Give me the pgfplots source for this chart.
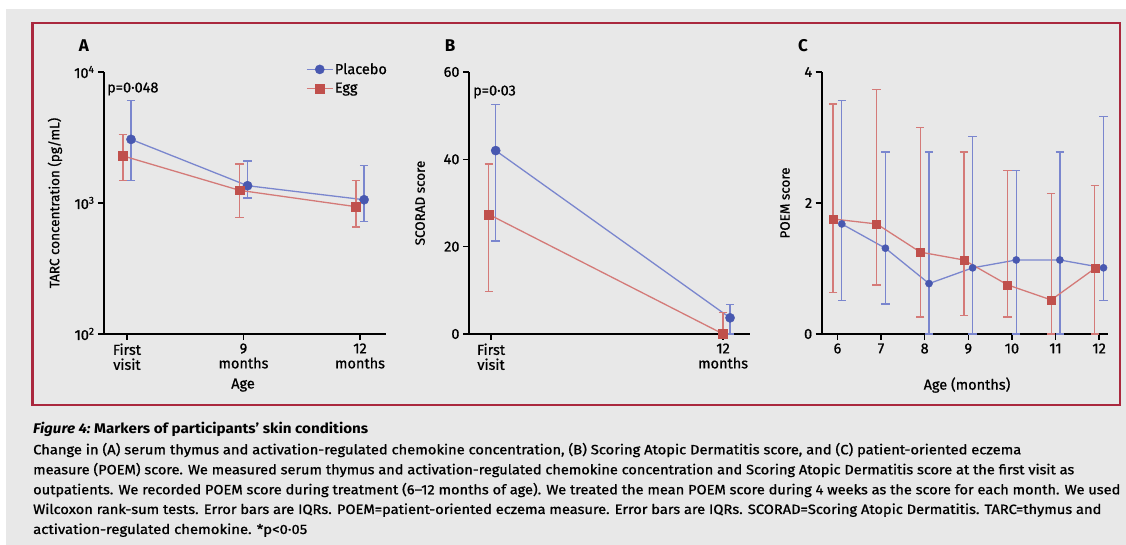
\documentclass[border=0pt]{standalone}
\usepackage{fontspec}
\setmainfont{Fira Sans}
\newfontfamily\chartfont{Fira Sans}[FakeBold=0.8]
\newfontfamily\capfont{Fira Sans}[FakeStretch=0.86, FakeBold=0.9]
\usepackage{graphicx}
\usepackage{pgfplots}
\pgfplotsset{compat=1.18}
\definecolor{bg}{RGB}{232,232,232}
\definecolor{boxred}{RGB}{170,40,62}
\definecolor{blueM}{RGB}{72,88,176}
\definecolor{blueL}{RGB}{122,134,206}
\definecolor{redM}{RGB}{192,80,76}
\definecolor{redL}{RGB}{212,122,120}
\newcommand{\cf}{\chartfont\fontsize{14.5}{15}\selectfont}
\newcommand{\lf}{\chartfont\fontsize{13.5}{15}\selectfont}
\pgfplotsset{
  myaxis/.style={
    scale only axis, clip=false,
    axis x line*=bottom, axis y line*=left,
    axis line style={line width=1.7pt, black},
    tick align=outside, major tick length=6pt,
    tick style={line width=1.5pt, black},
    /pgf/number format/assume math mode=true,
    tick label style={font=\cf},
    x tick label style={align=center},
  },
  placebo/.style={color=blueL, line width=1.3pt, mark=*, mark size=#1,
    mark options={solid, fill=blueM, draw=blueM, line width=0.4pt},
    error bars/.cd, y dir=both, y explicit,
    error bar style={line width=1.3pt, blueL},
    error mark options={rotate=90, blueL, mark size=4.2pt, line width=1.3pt}},
  egg/.style={color=redL, line width=1.3pt, mark=square*, mark size=#1,
    mark options={solid, fill=redM, draw=redM, line width=0.4pt},
    error bars/.cd, y dir=both, y explicit,
    error bar style={line width=1.3pt, redL},
    error mark options={rotate=90, redL, mark size=4.2pt, line width=1.3pt}},
}
\begin{document}
\begin{tikzpicture}
\useasboundingbox (0pt,0pt) rectangle (1126pt,545pt);
\fill[white] (0pt,0pt) rectangle (1126pt,545pt);
\fill[bg] (6pt,0pt) rectangle (1126pt,536pt);
\draw[boxred, line width=2.2pt] (32.5pt,522pt) rectangle (1120pt,140pt);

% Panel A
\begin{axis}[myaxis, at={(104pt,211pt)}, anchor=south west,
  width=282pt, height=262pt,
  xmin=-0.197, xmax=2.223,
  ymode=log, ymin=100, ymax=10000, yminorticks=false,
  ytick={100,1000,10000},
  yticklabels={10\textsuperscript{2},10\textsuperscript{3},10\textsuperscript{4}},
  xtick={0,1,2}, xticklabels={{First\\visit},{9\\months},{12\\months}},
  ylabel={TARC concentration (pg/mL)},
  every axis y label/.style={at={(axis description cs:-0.174,0.5)}, rotate=90, anchor=center, font=\lf},
  xlabel={Age},
  every axis x label/.style={at={(axis description cs:0.493,-0.195)}, anchor=center, font=\cf},
  legend style={at={(rel axis cs:0.716,1.04)}, anchor=north west, draw=none, fill=none,
    font=\cf, row sep=4pt, inner sep=0pt, nodes={inner sep=1.5pt}},
  legend cell align=left,
  legend image code/.code={\draw[mark repeat=2,mark phase=2] plot coordinates {(0pt,0pt) (13pt,0pt) (26pt,0pt)};},
]
\addplot[placebo=4.6pt] coordinates {
  (0.035,3060) += (0,2980) -= (0,1570)
  (1.035,1355) += (0,740) -= (0,263)
  (2.035,1059) += (0,880) -= (0,340)
};
\addlegendentry{Placebo}
\addplot[egg=4.4pt] coordinates {
  (-0.035,2290) += (0,1030) -= (0,800)
  (0.965,1250) += (0,738) -= (0,472)
  (1.965,937) += (0,553) -= (0,281)
};
\addlegendentry{Egg}
\end{axis}

% Panel B
\begin{axis}[myaxis, at={(469pt,211pt)}, anchor=south west,
  width=281pt, height=262pt,
  xmin=-0.095, xmax=1.116,
  ymin=0, ymax=60, ytick={0,20,40,60},
  xtick={0,1}, xticklabels={{First\\visit},{12\\months}},
  ylabel={SCORAD score},
  every axis y label/.style={at={(axis description cs:-0.174,0.5)}, rotate=90, anchor=center, font=\lf},
]
\addplot[placebo=4.6pt] coordinates {
  (0.02,42) += (0,10.6) -= (0,20.7)
  (1.03,3.7) += (0,3.1) -= (0,3.7)
};
\addplot[egg=4.4pt] coordinates {
  (-0.01,27.4) += (0,11.5) -= (0,17.7)
  (1.0,0) += (0,5) -= (0,0)
};
\end{axis}

% Panel C
\begin{axis}[myaxis, at={(821.7pt,211pt)}, anchor=south west,
  width=286.6pt, height=262pt,
  xmin=5.64, xmax=12.21,
  ymin=0, ymax=4, ytick={0,2,4},
  xtick={6,7,8,9,10,11,12},
  ylabel={POEM score},
  every axis y label/.style={at={(axis description cs:-0.128,0.5)}, rotate=90, anchor=center, font=\lf},
  xlabel={Age (months)},
  every axis x label/.style={at={(axis description cs:0.507,-0.195)}, anchor=center, font=\cf},
]
\addplot[placebo=3.6pt] coordinates {
  (6.1,1.68) += (0,1.89) -= (0,1.17)
  (7.1,1.31) += (0,1.47) -= (0,0.85)
  (8.1,0.77) += (0,2.01) -= (0,0.77)
  (9.1,1.01) += (0,2.01) -= (0,1.01)
  (10.1,1.13) += (0,1.37) -= (0,1.13)
  (11.1,1.13) += (0,1.65) -= (0,1.13)
  (12.1,1.01) += (0,2.31) -= (0,0.50)
};
\addplot[egg=4pt] coordinates {
  (5.9,1.756) += (0,1.754) -= (0,1.126)
  (6.9,1.68) += (0,2.05) -= (0,0.93)
  (7.9,1.25) += (0,1.90) -= (0,0.99)
  (8.9,1.13) += (0,1.65) -= (0,0.85)
  (9.9,0.75) += (0,1.75) -= (0,0.49)
  (10.9,0.52) += (0,1.62) -= (0,0.52)
  (11.9,1.0) += (0,1.27) -= (0,1.0)
};
\end{axis}

% Panel letters and p values
\node[font=\fontsize{17}{20}\selectfont\bfseries] at (84pt,499pt) {A};
\node[font=\fontsize{17}{20}\selectfont\bfseries] at (450pt,499pt) {B};
\node[font=\fontsize{17}{20}\selectfont\bfseries] at (803pt,499pt) {C};
\node[font=\cf, anchor=west, inner sep=0pt] at (107pt,456pt) {p=0·048};
\node[font=\cf, anchor=west, inner sep=0pt] at (473pt,453pt) {p=0·03};

% Caption
\node[anchor=base west, inner sep=0pt, font=\fontsize{14}{15}\selectfont] at (33pt,111pt)
  {\resizebox{335pt}{\height}{\bfseries\itshape Figure 4:\upshape\ Markers of participants’ skin conditions}};
\node[anchor=base west, inner sep=0pt, font=\capfont\fontsize{13.5}{15}\selectfont] at (33pt,90.7pt)
  {\resizebox{988pt}{\height}{Change in (A) serum thymus and activation-regulated chemokine concentration, (B) Scoring Atopic Dermatitis score, and (C) patient-oriented eczema}};
\node[anchor=base west, inner sep=0pt, font=\capfont\fontsize{13.5}{15}\selectfont] at (33pt,70.7pt)
  {\resizebox{1041pt}{\height}{measure (POEM) score. We measured serum thymus and activation-regulated chemokine concentration and Scoring Atopic Dermatitis score at the first visit as}};
\node[anchor=base west, inner sep=0pt, font=\capfont\fontsize{13.5}{15}\selectfont] at (33pt,50.7pt)
  {\resizebox{1087pt}{\height}{outpatients. We recorded POEM score during treatment (6–12 months of age). We treated the mean POEM score during 4 weeks as the score for each month. We used}};
\node[anchor=base west, inner sep=0pt, font=\capfont\fontsize{13.5}{15}\selectfont] at (33pt,31pt)
  {\resizebox{1068pt}{\height}{Wilcoxon rank-sum tests. Error bars are IQRs. POEM=patient-oriented eczema measure. Error bars are IQRs. SCORAD=Scoring Atopic Dermatitis. TARC=thymus and}};
\node[anchor=base west, inner sep=0pt, font=\capfont\fontsize{13.5}{15}\selectfont] at (33pt,11pt)
  {\resizebox{274pt}{\height}{activation-regulated chemokine. *p<0·05}};
\end{tikzpicture}
\end{document}
